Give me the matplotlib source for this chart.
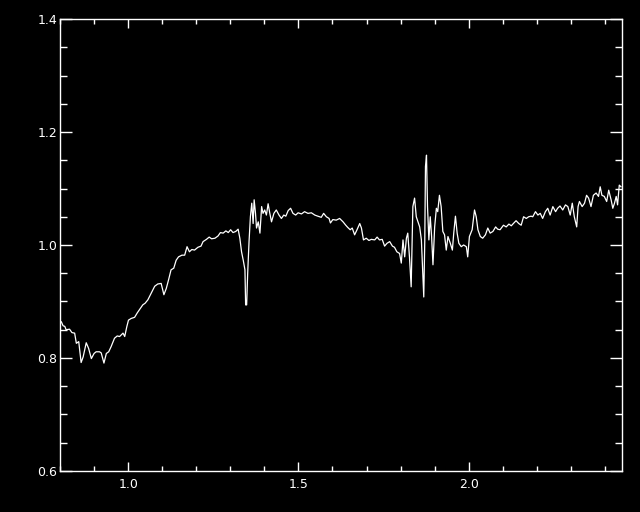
import numpy as np
import matplotlib
matplotlib.use('Agg')
import matplotlib.pyplot as plt
from matplotlib.ticker import MultipleLocator

# Spectrum (wavelength, normalised flux)
wave = [0.804, 0.809, 0.814, 0.818, 0.828, 0.835, 0.843, 0.848, 0.855, 0.862,
        0.868, 0.877, 0.884, 0.892, 0.900, 0.906, 0.916, 0.921, 0.929, 0.936,
        0.943, 0.950, 0.960, 0.968, 0.975, 0.985, 0.990, 0.996, 1.001, 1.009,
        1.019, 1.027, 1.034, 1.043, 1.050, 1.058, 1.068, 1.078, 1.087, 1.097,
        1.105, 1.112, 1.119, 1.126, 1.134, 1.141, 1.148, 1.158, 1.166, 1.173,
        1.180, 1.187, 1.195, 1.205, 1.214, 1.220, 1.230, 1.238, 1.245, 1.255,
        1.264, 1.271, 1.279, 1.287, 1.294, 1.301, 1.308, 1.316, 1.323, 1.328,
        1.333, 1.338, 1.343, 1.345, 1.348, 1.351, 1.355, 1.359, 1.363, 1.367,
        1.370, 1.374, 1.377, 1.382, 1.387, 1.392, 1.396, 1.401, 1.406, 1.411,
        1.416, 1.421, 1.428, 1.435, 1.443, 1.450, 1.457, 1.463, 1.470, 1.477,
        1.484, 1.492, 1.499, 1.509, 1.518, 1.528, 1.538, 1.548, 1.557, 1.567,
        1.574, 1.582, 1.590, 1.594, 1.601, 1.611, 1.621, 1.631, 1.639, 1.645,
        1.652, 1.658, 1.665, 1.672, 1.680, 1.685, 1.691, 1.699, 1.707, 1.714,
        1.724, 1.731, 1.738, 1.746, 1.753, 1.760, 1.768, 1.776, 1.782, 1.789,
        1.797, 1.802, 1.807, 1.812, 1.817, 1.821, 1.826, 1.831, 1.836, 1.841,
        1.846, 1.856, 1.861, 1.865, 1.868, 1.871, 1.873, 1.876, 1.879, 1.883,
        1.887, 1.891, 1.895, 1.900, 1.905, 1.909, 1.914, 1.919, 1.924, 1.929,
        1.934, 1.939, 1.946, 1.952, 1.956, 1.961, 1.966, 1.971, 1.978, 1.985,
        1.993, 1.997, 2.002, 2.010, 2.017, 2.022, 2.027, 2.034, 2.041, 2.049,
        2.056, 2.063, 2.071, 2.079, 2.085, 2.092, 2.102, 2.110, 2.118, 2.125,
        2.131, 2.139, 2.147, 2.154, 2.161, 2.169, 2.176, 2.183, 2.188, 2.196,
        2.203, 2.210, 2.217, 2.225, 2.232, 2.239, 2.247, 2.255, 2.261, 2.268,
        2.276, 2.284, 2.291, 2.298, 2.304, 2.310, 2.317, 2.321, 2.325, 2.333,
        2.340, 2.346, 2.352, 2.359, 2.366, 2.374, 2.381, 2.386, 2.391, 2.398,
        2.405, 2.411, 2.418, 2.423, 2.428, 2.433, 2.437, 2.442, 2.447]

flux = [0.864, 0.857, 0.856, 0.850, 0.851, 0.845, 0.844, 0.826, 0.829, 0.792,
        0.802, 0.827, 0.817, 0.799, 0.808, 0.811, 0.811, 0.809, 0.791, 0.808,
        0.811, 0.820, 0.835, 0.839, 0.838, 0.844, 0.838, 0.855, 0.867, 0.870,
        0.872, 0.880, 0.886, 0.894, 0.897, 0.903, 0.915, 0.927, 0.931, 0.932,
        0.912, 0.923, 0.939, 0.956, 0.959, 0.973, 0.979, 0.982, 0.982, 0.997,
        0.988, 0.992, 0.991, 0.996, 0.998, 1.006, 1.010, 1.014, 1.011, 1.012,
        1.016, 1.022, 1.021, 1.025, 1.022, 1.027, 1.022, 1.024, 1.028, 1.012,
        0.988, 0.973, 0.956, 0.894, 0.894, 0.950, 1.006, 1.050, 1.074, 1.038,
        1.080, 1.056, 1.030, 1.041, 1.021, 1.068, 1.056, 1.062, 1.053, 1.073,
        1.056, 1.041, 1.056, 1.062, 1.053, 1.047, 1.053, 1.051, 1.061, 1.065,
        1.056, 1.053, 1.057, 1.055, 1.059, 1.056, 1.057, 1.053, 1.051, 1.049,
        1.056, 1.050, 1.047, 1.039, 1.045, 1.044, 1.047, 1.041, 1.035, 1.031,
        1.027, 1.030, 1.018, 1.027, 1.038, 1.030, 1.009, 1.012, 1.008, 1.010,
        1.009, 1.014, 1.009, 1.010, 0.998, 1.003, 1.006, 0.998, 0.996, 0.988,
        0.985, 0.968, 1.009, 0.979, 1.012, 1.021, 0.979, 0.926, 1.068, 1.083,
        1.050, 1.032, 1.009, 0.950, 0.908, 1.009, 1.139, 1.159, 1.068, 1.009,
        1.050, 1.015, 0.965, 1.032, 1.065, 1.059, 1.088, 1.068, 1.024, 1.018,
        0.991, 1.015, 1.003, 0.991, 1.021, 1.051, 1.021, 1.003, 0.997, 1.000,
        0.997, 0.979, 1.015, 1.027, 1.062, 1.050, 1.027, 1.015, 1.012, 1.018,
        1.030, 1.021, 1.024, 1.032, 1.028, 1.027, 1.035, 1.032, 1.037, 1.034,
        1.038, 1.043, 1.038, 1.035, 1.050, 1.047, 1.050, 1.051, 1.050, 1.059,
        1.053, 1.056, 1.047, 1.059, 1.065, 1.053, 1.068, 1.059, 1.065, 1.069,
        1.062, 1.071, 1.068, 1.053, 1.074, 1.050, 1.032, 1.068, 1.077, 1.068,
        1.074, 1.088, 1.083, 1.068, 1.088, 1.092, 1.086, 1.103, 1.088, 1.086,
        1.077, 1.097, 1.080, 1.065, 1.074, 1.086, 1.071, 1.106, 1.103]

fig = plt.figure(figsize=(6.4, 5.12), dpi=100, facecolor='black')
ax = fig.add_axes([60 / 640, 41 / 512, 562 / 640, 452 / 512], facecolor='black')

ax.plot(wave, flux, color='white', linewidth=0.9)

ax.set_xlim(0.8, 2.45)
ax.set_ylim(0.6, 1.4)

# IDL-style axes: white box, inward ticks on all sides
for side in ax.spines.values():
    side.set_color('white')
    side.set_linewidth(1.0)

ax.xaxis.set_major_locator(MultipleLocator(0.5))
ax.xaxis.set_minor_locator(MultipleLocator(0.1))
ax.yaxis.set_major_locator(MultipleLocator(0.2))
ax.yaxis.set_minor_locator(MultipleLocator(0.05))
ax.xaxis.set_major_formatter(plt.FormatStrFormatter('%.1f'))
ax.yaxis.set_major_formatter(plt.FormatStrFormatter('%.1f'))

ax.tick_params(axis='both', which='both', direction='in', colors='white',
               top=True, right=True, width=1.0, labelsize=9)
ax.tick_params(axis='x', which='major', length=6.5, pad=5)
ax.tick_params(axis='x', which='minor', length=3.6)
ax.tick_params(axis='y', which='major', length=8.5, pad=2)
ax.tick_params(axis='y', which='minor', length=5)

fig.savefig('out.png', dpi=100, facecolor='black')
